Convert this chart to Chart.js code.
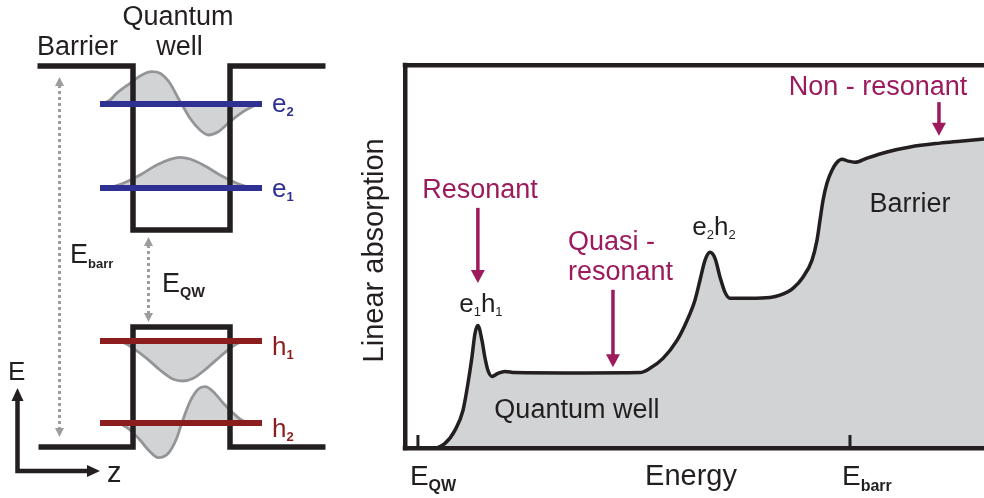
<!DOCTYPE html>
<html>
<head>
<meta charset="utf-8">
<script src="https://cdn.jsdelivr.net/npm/chart.js@4.4.1/dist/chart.umd.min.js"></script>
<style>
  html, body { margin: 0; padding: 0; background: #ffffff; }
  #wrap { position: relative; width: 984px; height: 498px; overflow: hidden; }
  canvas { position: absolute; top: 0; }
  #well { left: 0; }
  #spec { left: 360px; }
</style>
</head>
<body>
<div id="wrap">
  <canvas id="well" width="360" height="498"></canvas>
  <canvas id="spec" width="624" height="498"></canvas>
</div>
<script>
// ---------- Band diagram (position z, energy E in the same units as the spectrum) ----------
const cbZ = [-144, -48.5, -48.5, 48.5, 48.5, 144];
const cbE = [381, 381, 217, 217, 381, 381];
const vbZ = [-143, -48.5, -48.5, 48.5, 48.5, 144];
const vbE = [0, 0, 120, 120, 0, 0];

const levelNames = ['e2', 'e1', 'h1', 'h2'];
const levelE = [343, 259, 106, 24];
const levelZ = [-81.5, 80.5];

// confined wavefunctions, drawn about their level
const psiE2Z = [-81, -72, -64.8, -51.5, -41.5, -29.8, -21.5, -11.5, -3.2, 0.2, 8.5, 18.5, 26.8, 36.8, 48.5, 61.8, 70, 77];
const psiE2E = [343, 346.5, 353.7, 363.7, 371, 375.3, 373.7, 363.7, 348.7, 343, 328.7, 317, 312, 315.3, 325.3, 335.3, 340, 343];
const psiE1Z = [-78, -68, -58.2, -41.5, -24.8, -11.5, -1.5, 8.5, 21.8, 38.5, 55.2, 65, 74];
const psiE1E = [259, 260.5, 263.7, 272, 282, 287.7, 289.7, 288, 282, 272, 263.7, 260.5, 259];
const psiH1Z = [-63, -56, -48.2, -34.8, -21.5, -8.2, 1.2, 11.8, 25.2, 38.5, 48.5, 56, 64];
const psiH1E = [106, 103.5, 98.7, 88.7, 77, 67.7, 66, 68.7, 78.7, 90.3, 98.7, 103.5, 106];
const psiH2Z = [-65, -58, -51.5, -41.5, -33.2, -23.2, -13.2, -4.8, 0.2, 8.5, 16.8, 23.5, 31.8, 41.8, 51.8, 59, 66];
const psiH2E = [24, 21.5, 17, 7, -3, -10.7, -6.3, 8.7, 23.7, 45.3, 58, 60.3, 55.3, 43.7, 33.7, 27.5, 24];

// ---------- Absorption spectrum ----------
const energy = [88.5, 108, 114.8, 121.3, 126.6, 129.9, 132.5, 134.5, 136.4, 139.1, 141.0, 143.0, 145.7, 149.6, 154.2, 160.8,
  200, 243, 249.5, 258.1, 267.3, 273.9, 279.1, 282.4, 285.7, 289.0, 292.3, 295.6, 298.8, 302.1, 315.3, 328.4,
  335.0, 343.5, 350.1, 356.0, 359.3, 361.3, 363.3, 365.9, 369.2, 372.5, 375.8, 379.7, 384.3, 392.2, 405.3, 420.5,
  440.2, 453.3, 469.1];
const absorption = [0, 0, 1.2, 4.6, 9.8, 16.9, 23.7, 29.9, 32.0, 28.1, 23.7, 20.3, 18.7, 19.5, 20.0, 19.7,
  19.6, 19.7, 20.8, 23.4, 28.1, 33.3, 38.6, 43.8, 49.0, 51.1, 49.5, 44.6, 40.7, 39.1, 39.1, 39.3,
  39.9, 41.7, 44.6, 49.0, 54.2, 59.5, 64.7, 69.2, 72.5, 74.6, 75.4, 74.9, 74.6, 75.7, 77.3, 78.6,
  79.6, 80.1, 80.7];
const tickEnergies = [97, 381];
const tickSubs = ['QW', 'barr'];

// ---------- styling ----------
const FF = '"Liberation Sans", Arial, Helvetica, sans-serif';
const INK = '#231f20';
const MAGENTA = '#9b1b5d';
const BLUE = '#2e3192';
const RED = '#8c1d1f';
const DOTS = '#9d9d9d';
const WAVE_LINE = '#939598';
const WAVE_FILL = '#d1d3d4';

const pts = (xs, ys) => xs.map((x, i) => ({ x, y: ys[i] }));
const fontOf = p => (p[2] ? 'bold ' : '') + p[1] + 'px ' + FF;

// draws a run of text pieces [text, size, bold, dy] side by side
function drawParts(ctx, x, y, parts, align, color) {
  ctx.save();
  ctx.fillStyle = color;
  ctx.textBaseline = 'alphabetic';
  ctx.textAlign = 'left';
  let total = 0;
  const ws = parts.map(p => { ctx.font = fontOf(p); const w = ctx.measureText(p[0]).width; total += w; return w; });
  let cx = align === 'center' ? x - total / 2 : x;
  parts.forEach((p, i) => { ctx.font = fontOf(p); ctx.fillText(p[0], cx, y + (p[3] || 0)); cx += ws[i]; });
  ctx.restore();
}

function head(ctx, x, y, dx, dy, len, hw) {
  const bx = x - dx * len, by = y - dy * len;
  ctx.beginPath();
  ctx.moveTo(x, y);
  ctx.lineTo(bx - dy * hw, by + dx * hw);
  ctx.lineTo(bx + dy * hw, by - dx * hw);
  ctx.closePath();
  ctx.fill();
}

// ===================== band diagram chart =====================
const wellLevelColor = [BLUE, BLUE, RED, RED];
const waveSets = [[psiE2Z, psiE2E], [psiE1Z, psiE1E], [psiH1Z, psiH1E], [psiH2Z, psiH2E]];

const wellDatasets = [];
levelE.forEach((e, i) => {
  wellDatasets.push({
    data: pts(levelZ, [e, e]), borderColor: wellLevelColor[i], borderWidth: 6,
    borderCapStyle: 'butt', fill: false, order: 1
  });
});
wellDatasets.push({ data: pts(cbZ, cbE), borderColor: INK, borderWidth: 5.5, borderJoinStyle: 'miter', fill: false, order: 2 });
wellDatasets.push({ data: pts(vbZ, vbE), borderColor: INK, borderWidth: 5.5, borderJoinStyle: 'miter', fill: false, order: 2 });
waveSets.forEach((w, i) => {
  wellDatasets.push({
    data: pts(w[0], w[1]), borderColor: WAVE_LINE, borderWidth: 2.8, backgroundColor: WAVE_FILL,
    fill: { value: levelE[i] }, cubicInterpolationMode: 'monotone', order: 3
  });
});

const wellText = {
  id: 'wellText',
  afterDatasetsDraw(chart) {
    const ctx = chart.ctx;
    const X = v => chart.scales.x.getPixelForValue(v);
    const Y = v => chart.scales.y.getPixelForValue(v);

    // energy spacings (dotted double arrows)
    const spans = [[-122.5, 370, 10], [-33.5, 210, 125]];
    spans.forEach(s => {
      const x = Math.round(X(s[0])) + 0.5, y1 = Y(s[1]), y2 = Y(s[2]);
      ctx.save();
      ctx.strokeStyle = DOTS; ctx.fillStyle = DOTS; ctx.lineWidth = 3;
      ctx.setLineDash([3, 3]);
      ctx.beginPath(); ctx.moveTo(x, Math.round(y1) + 8); ctx.lineTo(x, y2 - 8); ctx.stroke();
      ctx.setLineDash([]);
      head(ctx, x, y1, 0, -1, 9, 4.5);
      head(ctx, x, y2, 0, 1, 9, 4.5);
      ctx.restore();
    });

    // E / z axes
    const cx = X(-164), cy = Y(-24), ty = Y(59), tx = X(-81.5);
    ctx.save();
    ctx.strokeStyle = INK; ctx.fillStyle = INK; ctx.lineWidth = 4.5; ctx.lineJoin = 'miter';
    ctx.beginPath(); ctx.moveTo(cx, ty + 10); ctx.lineTo(cx, cy); ctx.lineTo(tx - 10, cy); ctx.stroke();
    head(ctx, cx, ty, 0, -1, 13, 6);
    head(ctx, tx, cy, 1, 0, 13, 6);
    ctx.restore();

    drawParts(ctx, X(-3.5), Y(422), [['Quantum', 27]], 'center', INK);
    drawParts(ctx, X(-2), Y(392), [['well', 27]], 'center', INK);
    drawParts(ctx, X(-104), Y(392), [['Barrier', 27]], 'center', INK);
    drawParts(ctx, X(-111.5), Y(184), [['E', 27], ['barr', 13, true, 5]], 'left', INK);
    drawParts(ctx, X(-19.5), Y(155), [['E', 27], ['QW', 14.5, true, 5]], 'left', INK);
    drawParts(ctx, X(-173.5), Y(67), [['E', 26]], 'left', INK);
    drawParts(ctx, X(-74.5), Y(-35), [['z', 29]], 'left', INK);

    const labelBase = [335.3, 250.3, 92, 10];
    levelNames.forEach((n, i) => {
      drawParts(ctx, X(90.5), Y(labelBase[i]), [[n[0], 26], [n[1], 13, true, 4]], 'left', wellLevelColor[i]);
    });
  }
};

new Chart(document.getElementById('well'), {
  type: 'line',
  data: { datasets: wellDatasets },
  options: {
    responsive: false, animation: false, events: [],
    layout: { padding: 0 },
    elements: { point: { radius: 0 }, line: { tension: 0 } },
    plugins: { legend: { display: false }, tooltip: { enabled: false } },
    scales: {
      x: { type: 'linear', min: -181.5, max: 178.5, display: false },
      y: { type: 'linear', min: -51, max: 447, display: false }
    }
  },
  plugins: [wellText]
});

// ===================== absorption spectrum chart =====================
const hiddenAxis = {
  display: true,
  grid: { display: false, drawTicks: false },
  ticks: { display: false },
  border: { display: true, color: INK, width: 4.5, z: 1 }
};

const specText = {
  id: 'specText',
  afterDraw(chart) {
    const ctx = chart.ctx;
    const a = chart.chartArea;
    const xs = chart.scales.x, ys = chart.scales.y;
    const X = v => xs.getPixelForValue(v);
    const Y = v => ys.getPixelForValue(v);

    // frame corners
    ctx.save();
    ctx.fillStyle = INK;
    ctx.fillRect(a.left - 2.25, a.top - 2.25, 4.5, 4.5);
    ctx.fillRect(a.left - 2.25, a.bottom - 2.25, 4.5, 4.5);
    ctx.restore();

    // inward ticks with their labels
    xs.ticks.forEach((t, i) => {
      const x = X(t.value);
      ctx.save();
      ctx.strokeStyle = INK; ctx.lineWidth = 3;
      ctx.beginPath(); ctx.moveTo(x, a.bottom - 13); ctx.lineTo(x, a.bottom); ctx.stroke();
      ctx.restore();
      drawParts(ctx, x - 8, a.bottom + 37, [['E', 28], [tickSubs[i], 16, true, 6]], 'left', INK);
    });
    drawParts(ctx, X(276.5), a.bottom + 37, [['Energy', 29]], 'center', INK);

    // y-axis title
    ctx.save();
    ctx.translate(a.left - 22, Y(51.6));
    ctx.rotate(-Math.PI / 2);
    drawParts(ctx, 0, 0, [['Linear absorption', 29]], 'center', INK);
    ctx.restore();

    // peak and region labels
    drawParts(ctx, X(138.4), Y(35.5), [['e', 26], ['1', 13, false, 4], ['h', 26], ['1', 13, false, 4]], 'center', INK);
    drawParts(ctx, X(291.6), Y(55.6), [['e', 26], ['2', 13, false, 4], ['h', 26], ['2', 13, false, 4]], 'center', INK);
    drawParts(ctx, X(201.5), Y(7.8), [['Quantum well', 27]], 'center', INK);
    drawParts(ctx, X(420.5), Y(61.6), [['Barrier', 27]], 'center', INK);

    // excitation conditions
    drawParts(ctx, X(137.8), Y(65.3), [['Resonant', 27]], 'center', MAGENTA);
    drawParts(ctx, X(195.6), Y(51.7), [['Quasi -', 27]], 'left', MAGENTA);
    drawParts(ctx, X(195.6), Y(43.9), [['resonant', 27]], 'left', MAGENTA);
    drawParts(ctx, X(399.4), Y(92.2), [['Non - resonant', 27]], 'center', MAGENTA);

    const pointers = [[136.4, 62.7, 43.1], [225.2, 41.3, 21.1], [439.5, 90.3, 81.5]];
    pointers.forEach(p => {
      const x = X(p[0]), y1 = Y(p[1]), y2 = Y(p[2]);
      ctx.save();
      ctx.strokeStyle = MAGENTA; ctx.fillStyle = MAGENTA; ctx.lineWidth = 3.5;
      ctx.beginPath(); ctx.moveTo(x, y1); ctx.lineTo(x, y2 - 10); ctx.stroke();
      head(ctx, x, y2, 0, 1, 13, 7);
      ctx.restore();
    });
  }
};

new Chart(document.getElementById('spec'), {
  type: 'line',
  data: {
    datasets: [{
      data: pts(energy, absorption),
      borderColor: INK, borderWidth: 3.5, backgroundColor: WAVE_FILL,
      fill: 'origin', cubicInterpolationMode: 'monotone'
    }]
  },
  options: {
    responsive: false, animation: false, events: [],
    layout: { padding: { left: 45, top: 65, right: 0, bottom: 50 } },
    elements: { point: { radius: 0 } },
    plugins: { legend: { display: false }, tooltip: { enabled: false } },
    scales: {
      x: Object.assign({}, hiddenAxis, {
        type: 'linear', position: 'bottom', min: 88.5, max: 469.1,
        afterBuildTicks: s => { s.ticks = tickEnergies.map(v => ({ value: v })); }
      }),
      x2: Object.assign({}, hiddenAxis, { type: 'linear', position: 'top', min: 88.5, max: 469.1 }),
      y: Object.assign({}, hiddenAxis, { type: 'linear', position: 'left', min: 0, max: 100 })
    }
  },
  plugins: [specText]
});
</script>
</body>
</html>
